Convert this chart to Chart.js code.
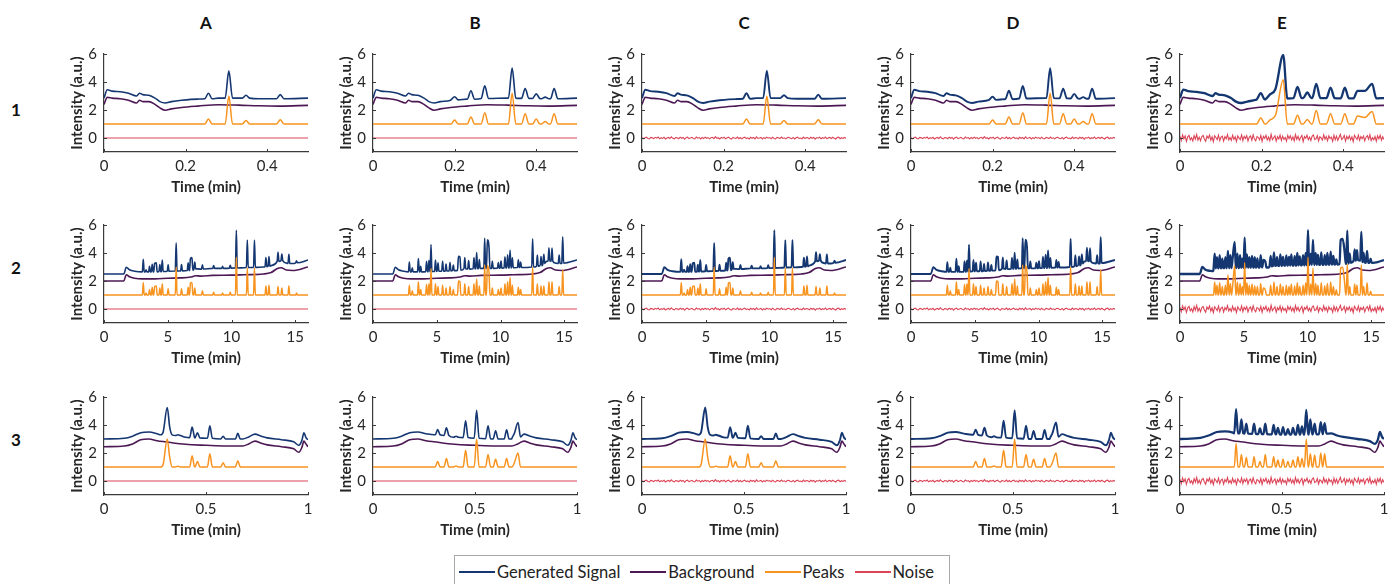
<!DOCTYPE html>
<html>
<head>
<meta charset="utf-8">
<script src="https://cdn.jsdelivr.net/npm/chart.js@4.4.1/dist/chart.umd.min.js"></script>
<style>
  html, body { margin: 0; padding: 0; background: #fff; }
  body { width: 1392px; height: 584px; position: relative; overflow: hidden; font-family: Lato, 'Open Sans', sans-serif; }
  canvas { position: absolute; }
  .colTitle, .rowTitle { position: absolute; width: 40px; height: 20px; line-height: 20px; margin: -10px 0 0 -20px; text-align: center; font-weight: 700; font-size: 17px; color: #111; }
  #legend { position: absolute; left: 454px; top: 555px; width: 496px; height: 34px; box-sizing: border-box; border: 1px solid #a8a8a8; display: flex; align-items: center; padding-left: 4px; font-size: 16.5px; color: #222; }
  #legend .item { display: flex; align-items: center; margin-right: 10px; white-space: nowrap; }
  #legend i { display: inline-block; width: 36px; height: 2px; margin-right: 2px; }
</style>
</head>
<body>
<div id="legend"></div>
<script>
/**
 * Simulated chromatogram panels: 3 rows x 5 columns
 * Each panel shows generated signal, background, peaks and noise
 */

const columns = ['A', 'B', 'C', 'D', 'E'];
const rowNames = ['1', '2', '3'];
const seriesNames = ['Generated Signal', 'Background', 'Peaks', 'Noise'];
const seriesColors = ['#143671', '#4c1854', '#f7931e', '#dc4557'];

const xMax = [0.5, 16, 1];
const xTicksRow1 = [0, 0.2, 0.4];
const xTicksRow2 = [0, 5, 10, 15];
const xTicksRow3 = [0, 0.5, 1];
const yTicks = [0, 2, 4, 6];

// ---- Row 1 (0 - 0.5 min) ----
const bgRow1 = [[0, 2.4], [0.008, 2.9], [0.02, 2.85], [0.04, 2.8], [0.06, 2.7], [0.08, 2.5], [0.087, 2.7], [0.095, 2.6],
  [0.11, 2.6], [0.125, 2.4], [0.137, 2.15], [0.15, 1.98], [0.165, 2.08], [0.19, 2.18], [0.23, 2.28], [0.28, 2.38],
  [0.33, 2.35], [0.38, 2.3], [0.43, 2.28], [0.5, 2.33]];
const sigBaseRow1 = [[0, 2.85], [0.008, 3.45], [0.02, 3.35], [0.04, 3.3], [0.06, 3.2], [0.08, 3.0], [0.087, 3.2], [0.095, 3.1],
  [0.11, 3.05], [0.125, 2.85], [0.137, 2.6], [0.15, 2.5], [0.165, 2.6], [0.19, 2.7], [0.23, 2.78], [0.28, 2.85],
  [0.33, 2.85], [0.38, 2.8], [0.43, 2.78], [0.5, 2.85]];
const sigBaseRow1E = [[0, 2.85], [0.008, 3.45], [0.02, 3.35], [0.04, 3.3], [0.06, 3.2], [0.08, 3.0], [0.087, 3.2], [0.095, 3.1],
  [0.11, 3.05], [0.125, 2.85], [0.137, 2.6], [0.15, 2.5], [0.165, 2.6], [0.185, 2.72], [0.5, 2.85]];
// [time, peak top, signal base, signal top]
const peaksRow1A = [[0.256, 1.35, 2.8, 3.2], [0.306, 3.0, 2.85, 4.8], [0.348, 1.25, 2.85, 3.05], [0.432, 1.3, 2.8, 3.1]];
const peaksRow1B = [[0.2, 1.28, 2.72, 2.95], [0.24, 1.5, 2.77, 3.37], [0.274, 1.8, 2.82, 3.72], [0.341, 3.2, 2.85, 4.99],
  [0.373, 1.73, 2.83, 3.53], [0.4, 1.35, 2.82, 3.15], [0.422, 1.17, 2.8, 2.92], [0.444, 1.73, 2.8, 3.53]];
const peaksRow1E = [[0.198, 1.44, 2.75, 3.2], [0.22, 1.28, 2.78, 3.1], [0.234, 1.62, 2.8, 3.5], [0.253, 4.16, 2.82, 5.93],
  [0.288, 1.62, 2.85, 3.65], [0.312, 1.33, 2.85, 3.25], [0.334, 1.96, 2.85, 3.87], [0.369, 1.73, 2.85, 3.6],
  [0.404, 1.73, 2.83, 3.6], [0.435, 1.57, 2.83, 3.37], [0.453, 1.46, 2.83, 3.37], [0.471, 1.89, 2.83, 3.87]];

// ---- Row 2 (0 - 16 min) ----
const bgRow2 = [[0, 2.0], [1.55, 2.0], [1.75, 2.45], [2.0, 2.3], [2.4, 2.2], [3, 2.15], [4, 2.15], [5, 2.2], [6, 2.22],
  [6.8, 2.28], [7.2, 2.38], [7.6, 2.35], [8.5, 2.4], [10, 2.42], [11, 2.45], [12.5, 2.5], [13.1, 2.6], [13.6, 2.9],
  [13.9, 2.95], [14.3, 2.78], [14.8, 2.75], [16, 3.0]];
const sigBaseRow2 = [[0, 2.5], [1.55, 2.5], [1.75, 2.98], [2.0, 2.8], [2.4, 2.7], [3, 2.65], [4, 2.65], [5, 2.7], [6, 2.72],
  [6.8, 2.78], [7.2, 2.88], [7.6, 2.85], [8.5, 2.9], [10, 2.92], [11, 2.95], [12.5, 3.0], [13.1, 3.1], [13.6, 3.4],
  [13.9, 3.45], [14.3, 3.28], [14.8, 3.25], [16, 3.5]];
const sigBaseRow2E = [[0, 2.5], [1.55, 2.5], [1.75, 3.0], [2.0, 2.8], [2.4, 2.72], [2.6, 2.7], [6.8, 2.95], [7.0, 3.0],
  [15.1, 3.3], [15.5, 3.35], [16, 3.5]];
const peaksRow2A = [[3.08, 1.9, 2.65, 3.55], [3.3, 1.15, 2.65, 2.8], [3.57, 1.4, 2.65, 3.05], [3.78, 1.55, 2.65, 3.2],
  [3.97, 1.6, 2.65, 3.25], [4.1, 1.65, 2.65, 3.3], [4.38, 1.5, 2.67, 3.17], [4.57, 1.8, 2.68, 3.5],
  [5.03, 1.45, 2.7, 3.15], [5.66, 3.0, 2.71, 4.72], [6.08, 1.45, 2.72, 3.17], [6.6, 1.55, 2.75, 3.3],
  [6.78, 1.85, 2.76, 3.6], [6.9, 1.9, 2.77, 3.67], [7.12, 1.5, 2.86, 3.35], [7.72, 1.3, 2.86, 3.15],
  [8.6, 1.2, 2.9, 3.1], [9.3, 1.15, 2.9, 3.05], [9.9, 1.2, 2.92, 3.12], [10.38, 3.7, 2.93, 5.63],
  [11.24, 2.95, 2.96, 4.92], [11.8, 2.95, 2.97, 4.93], [12.7, 1.65, 3.02, 3.67], [12.94, 1.7, 3.05, 3.75],
  [13.65, 1.6, 3.4, 4.05], [13.95, 1.5, 3.45, 3.92], [14.5, 1.65, 3.25, 3.9], [15.1, 1.15, 3.3, 3.45]];
const peaksRow2B = [[2.85, 1.7, 2.65, 3.35], [3.08, 1.3, 2.65, 2.95], [3.56, 1.95, 2.65, 3.6], [3.74, 1.4, 2.65, 3.05],
  [4.2, 1.75, 2.66, 3.41], [4.39, 1.8, 2.67, 3.47], [4.55, 2.9, 2.68, 4.6], [4.9, 1.8, 2.69, 3.5],
  [5.1, 1.6, 2.7, 3.3], [5.46, 1.7, 2.7, 3.4], [5.73, 1.5, 2.71, 3.21], [6.04, 1.6, 2.72, 3.32],
  [6.3, 1.4, 2.74, 3.14], [6.7, 2.0, 2.76, 3.76], [6.82, 1.95, 2.77, 3.72], [7.2, 1.8, 2.88, 3.68],
  [7.5, 1.6, 2.86, 3.46], [7.92, 1.8, 2.87, 3.67], [8.13, 2.15, 2.88, 4.03], [8.34, 1.65, 2.89, 3.54],
  [8.76, 3.15, 2.9, 5.05], [8.97, 3.1, 2.9, 4.95], [9.1, 2.6, 2.9, 4.4], [9.36, 1.5, 2.9, 3.4],
  [9.83, 1.4, 2.91, 3.31], [10.04, 1.5, 2.92, 3.42], [10.35, 1.8, 2.93, 3.73], [10.56, 1.95, 2.93, 3.88],
  [10.75, 2.25, 2.94, 4.19], [10.93, 1.7, 2.95, 3.65], [11.4, 1.55, 2.96, 3.51], [11.58, 1.4, 2.96, 3.36],
  [12.52, 3.0, 3.0, 5.02], [12.89, 1.8, 3.05, 3.85], [13.18, 1.65, 3.1, 3.75], [13.4, 1.65, 3.25, 3.9],
  [13.8, 1.95, 3.42, 4.37], [14.04, 1.95, 3.4, 4.35], [14.6, 1.6, 3.25, 3.85], [14.88, 2.8, 3.28, 5.15]];
const peaksRow2E = [[2.72, 1.93, 2.9, 3.95], [2.9, 1.7, 2.9, 3.7], [3.11, 1.87, 2.9, 3.85], [3.32, 1.6, 2.92, 3.6],
  [3.56, 1.7, 2.92, 3.7], [3.76, 2.45, 2.92, 4.15], [3.95, 1.82, 2.93, 3.85], [4.13, 1.65, 2.93, 3.65],
  [4.29, 3.1, 2.93, 4.8], [4.5, 1.93, 2.93, 3.95], [4.71, 1.82, 2.94, 3.85], [4.89, 1.6, 2.94, 3.6],
  [5.07, 3.3, 2.95, 5.1], [5.25, 1.87, 2.95, 3.9], [5.44, 1.7, 2.95, 3.7], [5.65, 1.78, 2.95, 3.8],
  [5.86, 1.65, 2.96, 3.7], [6.07, 1.6, 2.96, 3.62], [6.33, 1.82, 2.97, 3.85], [6.54, 1.5, 2.97, 3.5],
  [6.69, 1.38, 2.97, 3.4], [7.11, 1.7, 3.05, 3.8], [7.37, 1.93, 3.08, 4.05], [7.61, 1.6, 3.08, 3.7],
  [7.87, 1.78, 3.08, 3.9], [8.08, 1.6, 3.1, 3.72], [8.34, 1.7, 3.1, 3.82], [8.55, 1.6, 3.1, 3.72],
  [8.73, 1.78, 3.1, 3.9], [8.99, 1.65, 3.1, 3.78], [9.2, 1.87, 3.12, 4.0], [9.39, 1.6, 3.12, 3.75],
  [9.65, 1.7, 3.12, 3.85], [9.86, 1.87, 3.12, 4.0], [10.04, 3.7, 3.15, 5.64], [10.25, 1.78, 3.15, 3.95],
  [10.43, 2.93, 3.15, 4.93], [10.64, 1.82, 3.15, 4.0], [10.82, 1.7, 3.15, 3.88], [11.08, 1.87, 3.16, 4.05],
  [11.35, 1.65, 3.16, 3.85], [11.56, 1.82, 3.17, 4.0], [11.82, 1.93, 3.17, 4.1], [12.03, 1.6, 3.18, 3.8],
  [12.26, 1.38, 3.18, 3.55], [12.6, 2.93, 3.2, 4.93], [12.76, 2.98, 3.2, 5.0], [12.92, 1.78, 3.22, 4.0],
  [13.12, 3.2, 3.25, 5.6], [13.31, 1.6, 3.3, 3.95], [13.7, 1.78, 3.45, 4.25], [13.88, 1.7, 3.5, 4.2],
  [14.22, 3.15, 3.45, 5.5], [14.4, 1.6, 3.35, 4.0], [14.67, 1.87, 3.3, 4.15], [14.95, 1.27, 3.3, 3.6]];

// ---- Row 3 (0 - 1 min) ----
const bgRow3 = [[0, 2.45], [0.1, 2.5], [0.14, 2.65], [0.18, 2.95], [0.22, 3.0], [0.26, 2.88], [0.3, 2.8], [0.4, 2.62],
  [0.5, 2.55], [0.6, 2.5], [0.68, 2.5], [0.71, 2.65], [0.74, 2.85], [0.77, 2.7], [0.8, 2.58], [0.87, 2.45],
  [0.93, 2.3], [0.955, 2.05], [0.97, 2.4], [0.98, 2.85], [0.99, 2.65], [1, 2.45]];
const sigBaseRow3 = [[0, 3.0], [0.1, 3.05], [0.14, 3.2], [0.18, 3.45], [0.22, 3.5], [0.26, 3.38], [0.3, 3.3], [0.4, 3.12],
  [0.5, 3.05], [0.6, 3.0], [0.68, 3.0], [0.71, 3.15], [0.74, 3.35], [0.77, 3.2], [0.8, 3.08], [0.87, 2.95],
  [0.93, 2.8], [0.955, 2.55], [0.97, 2.9], [0.98, 3.45], [0.99, 3.1], [1, 2.95]];
const sigBaseRow3E = [[0, 3.0], [0.1, 3.08], [0.14, 3.25], [0.18, 3.5], [0.22, 3.55], [0.26, 3.45], [0.74, 3.4],
  [0.77, 3.25], [0.8, 3.15], [0.87, 3.0], [0.93, 2.85], [0.955, 2.65], [0.97, 2.95], [0.98, 3.5], [0.99, 3.15], [1, 3.0]];
const peaksRow3A = [[0.29, 1.2, 3.3, 3.5], [0.31, 3.0, 3.3, 5.25], [0.322, 1.7, 3.3, 3.85], [0.362, 1.05, 3.25, 3.3],
  [0.432, 1.8, 3.1, 3.85], [0.458, 1.4, 3.08, 3.45], [0.519, 1.95, 3.05, 3.95], [0.584, 1.3, 3.0, 3.2],
  [0.656, 1.45, 3.0, 3.4]];
const peaksRow3B = [[0.317, 1.4, 3.3, 3.67], [0.36, 1.6, 3.25, 3.8], [0.407, 1.08, 3.12, 3.2], [0.454, 2.2, 3.1, 4.3],
  [0.508, 3.0, 3.05, 5.05], [0.564, 1.9, 3.02, 3.95], [0.601, 1.55, 3.0, 3.58], [0.655, 1.6, 3.0, 3.65],
  [0.693, 1.3, 3.05, 3.4], [0.711, 2.0, 3.15, 4.18]];
const peaksRow3E = [[0.275, 2.67, 3.4, 5.13], [0.301, 1.9, 3.4, 4.4], [0.325, 1.67, 3.38, 4.1], [0.363, 1.73, 3.37, 4.1],
  [0.392, 1.4, 3.35, 3.75], [0.418, 1.9, 3.35, 4.1], [0.459, 1.73, 3.33, 4.0], [0.48, 1.5, 3.33, 3.8],
  [0.505, 1.55, 3.32, 3.85], [0.529, 1.4, 3.32, 3.7], [0.554, 1.5, 3.32, 3.8], [0.578, 1.73, 3.32, 4.0],
  [0.598, 1.6, 3.32, 3.9], [0.619, 3.0, 3.32, 5.07], [0.639, 1.95, 3.33, 4.4], [0.66, 1.85, 3.33, 4.1],
  [0.69, 2.0, 3.35, 4.2], [0.709, 1.95, 3.38, 4.13]];

// Noise traces (evenly sampled over the run), columns C/D and E
const noiseLow = [0.03, -0.05, 0.02, 0.06, -0.03, -0.07, 0.04, 0.01, -0.04, 0.05, -0.01, 0.07, -0.06, 0.02, -0.03, 0.05,
  -0.07, 0.0, 0.04, -0.04, 0.08, -0.02, -0.06, 0.03, 0.01, -0.05, 0.06, -0.02, 0.04, -0.08, 0.02, 0.06, -0.04, 0.0,
  0.05, -0.03, -0.06, 0.07, -0.01, 0.03, -0.07, 0.04, -0.04, 0.06, -0.02, 0.03, -0.06, 0.01, 0.05, -0.05, 0.09, -0.03,
  0.02, -0.07, 0.04, -0.01, 0.05, -0.06, 0.02, 0.06, -0.04, -0.08, 0.04, 0.0, -0.03, 0.07, -0.05, 0.03, -0.06, 0.02,
  0.06, -0.04, 0.01, -0.07, 0.05, -0.02, 0.04, -0.06, 0.08, -0.03, 0.0, 0.04, -0.07, 0.03, -0.04, 0.06, -0.01, 0.03,
  -0.05, 0.06, -0.03, -0.06, 0.04, 0.02, -0.04, 0.07, -0.03, 0.01, -0.06, 0.03, 0.05, -0.02, -0.05, 0.04, -0.07, 0.02,
  0.06, -0.03, 0.0, -0.05, 0.07, -0.04, 0.03, 0.01, -0.06, 0.05, -0.02, 0.04, -0.08, 0.03, -0.01, 0.06, -0.05, 0.02,
  -0.03, 0.07, -0.06, 0.01, 0.04, -0.04, 0.05, -0.02, -0.07, 0.03, 0.06, -0.05, 0.02, -0.03, 0.04, -0.01];
const noiseHigh = [0.12, -0.18, 0.22, -0.05, 0.15, -0.24, 0.08, 0.19, -0.13, 0.02, -0.21, 0.17, -0.09, 0.25, -0.16, 0.06,
  -0.2, 0.11, 0.18, -0.07, -0.23, 0.14, -0.02, 0.21, -0.15, 0.09, -0.26, 0.16, 0.04, -0.12, 0.2, -0.19, 0.07, 0.13,
  -0.22, 0.1, -0.06, 0.24, -0.14, 0.03, -0.17, 0.19, -0.1, 0.08, -0.25, 0.15, 0.01, -0.11, 0.22, -0.18, 0.12, -0.04,
  0.17, -0.21, 0.06, 0.14, -0.16, 0.23, -0.08, -0.2, 0.1, 0.05, -0.13, 0.18, -0.24, 0.11, -0.03, 0.2, -0.15, 0.07,
  -0.19, 0.26, -0.12, 0.02, 0.16, -0.22, 0.09, -0.07, 0.21, -0.17, 0.13, -0.1, 0.04, -0.23, 0.19, -0.05, 0.15, -0.14,
  0.08, -0.2, 0.24, -0.09, 0.12, -0.16, 0.03, 0.18, -0.25, 0.1, -0.02, 0.2, -0.13, 0.06, -0.18, 0.14, 0.22, -0.11,
  -0.06, 0.17, -0.21, 0.09, 0.01, -0.15, 0.23, -0.08, 0.11, -0.19, 0.16, -0.04, 0.07, -0.24, 0.2, -0.12, 0.13, -0.17,
  0.05, 0.25, -0.1, -0.02, 0.18, -0.22, 0.12, -0.07, 0.15, -0.14, 0.08, -0.26, 0.19, 0.03, -0.11, 0.21, -0.16, 0.1,
  -0.05, 0.14, -0.2, 0.06, 0.17, -0.09, 0.23, -0.18, 0.02, -0.13, 0.11, -0.23, 0.16, -0.06, 0.2, -0.15, 0.09, -0.1];

// Which data set each column uses
const xTicksByRow = [xTicksRow1, xTicksRow2, xTicksRow3];
const bgByRow = [bgRow1, bgRow2, bgRow3];
const sigBaseByRow = [sigBaseRow1, sigBaseRow2, sigBaseRow3];
const sigBaseEByRow = [sigBaseRow1E, sigBaseRow2E, sigBaseRow3E];
const peaksByRow = [
  [peaksRow1A, peaksRow1B, peaksRow1A, peaksRow1B, peaksRow1E],
  [peaksRow2A, peaksRow2B, peaksRow2A, peaksRow2B, peaksRow2E],
  [peaksRow3A, peaksRow3B, peaksRow3A, peaksRow3B, peaksRow3E]
];
const noiseByCol = [null, null, noiseLow, noiseLow, noiseHigh];

// Layout (pixels)
const colLefts = [104, 373, 642, 911, 1180];
const rowTops = [48, 219, 391];
const plotW = 204, plotH = 104;
const padL = 36, padT = 10, padR = 10, padB = 44;
const peakHalfWidth = [0.009, 0.07, 0.012];
const peakHalfWidthE = [0.01, 0.085, 0.009];
const signalWidth = [1.6, 1.6, 1.9, 1.9, 2.3];

const axisColor = '#3a3a3a';
const textColor = '#262626';
const fontFamily = "Lato, 'Open Sans', sans-serif";

/**
 * Merge a slowly varying baseline with peak apexes into one polyline
 */
function buildLine(baseline, peaks, w, footY, topY) {
  const inside = (x, skip) => peaks.some((q, j) => j !== skip && x > q[0] - w && x < q[0] + w);
  const pts = [];
  baseline.forEach(p => {
    if (!inside(p[0], -1)) pts.push({ x: p[0], y: p[1] });
  });
  peaks.forEach((p, i) => {
    if (!inside(p[0] - w, i)) pts.push({ x: p[0] - w, y: footY(p) });
    pts.push({ x: p[0], y: topY(p) });
    if (!inside(p[0] + w, i)) pts.push({ x: p[0] + w, y: footY(p) });
  });
  return pts.sort((a, b) => a.x - b.x);
}

// Small inward tick marks like the original figure
const innerTicks = {
  id: 'innerTicks',
  afterDraw(chart) {
    const { ctx, chartArea: a, scales: { x, y } } = chart;
    ctx.save();
    ctx.strokeStyle = axisColor;
    ctx.lineWidth = 1;
    ctx.beginPath();
    x.ticks.forEach(t => {
      const px = Math.round(x.getPixelForValue(t.value)) + 0.5;
      ctx.moveTo(px, a.bottom);
      ctx.lineTo(px, a.bottom - 3);
    });
    y.ticks.forEach(t => {
      const py = Math.round(y.getPixelForValue(t.value)) + 0.5;
      ctx.moveTo(a.left, py);
      ctx.lineTo(a.left + 3, py);
    });
    ctx.stroke();
    ctx.restore();
  }
};

function createPanel(r, c) {
  const canvas = document.createElement('canvas');
  canvas.width = padL + plotW + padR;
  canvas.height = padT + plotH + padB;
  canvas.style.left = (colLefts[c] - padL) + 'px';
  canvas.style.top = (rowTops[r] - padT) + 'px';
  document.body.appendChild(canvas);

  const xmax = xMax[r];
  const isE = c === 4;
  const peaks = peaksByRow[r][c];
  const w = isE ? peakHalfWidthE[r] : peakHalfWidth[r];
  const sigBase = isE ? sigBaseEByRow[r] : sigBaseByRow[r];

  const signal = buildLine(sigBase, peaks, w, p => p[2], p => p[3]);
  const peakLine = buildLine([[0, 1], [xmax, 1]], peaks, w, () => 1, p => p[1]);
  const background = bgByRow[r].map(p => ({ x: p[0], y: p[1] }));
  const noiseVals = noiseByCol[c];
  const noise = noiseVals
    ? noiseVals.map((v, i) => ({ x: i * xmax / (noiseVals.length - 1), y: v }))
    : [{ x: 0, y: 0 }, { x: xmax, y: 0 }];

  const xTicks = xTicksByRow[r];
  const tickFont = { family: fontFamily, size: 15 };
  const titleFont = { family: fontFamily, size: 15, weight: 'bold', lineHeight: 1.2 };

  return new Chart(canvas, {
    type: 'line',
    data: {
      datasets: [
        { label: seriesNames[3], data: noise, borderColor: seriesColors[3], borderWidth: 1.1, cubicInterpolationMode: 'default', tension: 0 },
        { label: seriesNames[2], data: peakLine, borderColor: seriesColors[2], borderWidth: 1.5 },
        { label: seriesNames[1], data: background, borderColor: seriesColors[1], borderWidth: 1.6 },
        { label: seriesNames[0], data: signal, borderColor: seriesColors[0], borderWidth: signalWidth[c] }
      ]
    },
    options: {
      responsive: false,
      animation: false,
      events: [],
      layout: { padding: { left: 0, top: padT, right: padR, bottom: 0 } },
      plugins: { legend: { display: false }, tooltip: { enabled: false } },
      elements: { point: { radius: 0 }, line: { cubicInterpolationMode: 'monotone' } },
      scales: {
        x: {
          type: 'linear',
          min: 0,
          max: xmax,
          afterFit: s => { s.height = padB; },
          afterBuildTicks: s => { s.ticks = xTicks.map(v => ({ value: v })); },
          grid: { display: false, drawTicks: false },
          border: { display: true, color: axisColor, width: 1.2 },
          ticks: { autoSkip: false, maxRotation: 0, padding: 5, color: textColor, font: tickFont, callback: v => String(v) },
          title: { display: true, text: 'Time (min)', color: textColor, font: titleFont, padding: 0 }
        },
        y: {
          min: -1,
          max: 6,
          afterFit: s => { s.width = padL; },
          afterBuildTicks: s => { s.ticks = yTicks.map(v => ({ value: v })); },
          grid: { display: false, drawTicks: false },
          border: { display: true, color: axisColor, width: 1.2 },
          ticks: { padding: 7, color: textColor, font: tickFont, callback: v => String(v) },
          title: { display: true, text: 'Intensity (a.u.)', color: textColor, font: titleFont, padding: 0 }
        }
      }
    },
    plugins: [innerTicks]
  });
}

// Column and row headings
columns.forEach((name, c) => {
  const d = document.createElement('div');
  d.className = 'colTitle';
  d.textContent = name;
  d.style.left = (colLefts[c] + plotW / 2) + 'px';
  d.style.top = '23px';
  document.body.appendChild(d);
});
const rowLabelY = [110, 268, 440];
rowNames.forEach((name, r) => {
  const d = document.createElement('div');
  d.className = 'rowTitle';
  d.textContent = name;
  d.style.left = '16px';
  d.style.top = rowLabelY[r] + 'px';
  document.body.appendChild(d);
});

// Legend
const legend = document.getElementById('legend');
seriesNames.forEach((name, i) => {
  const item = document.createElement('span');
  item.className = 'item';
  item.innerHTML = '<i style="background:' + seriesColors[i] + '"></i>' + name;
  legend.appendChild(item);
});

for (let r = 0; r < 3; r++) {
  for (let c = 0; c < 5; c++) {
    try {
      createPanel(r, c);
    } catch (error) {
      console.warn('Panel failed:', r, c, error);
    }
  }
}
</script>
</body>
</html>
